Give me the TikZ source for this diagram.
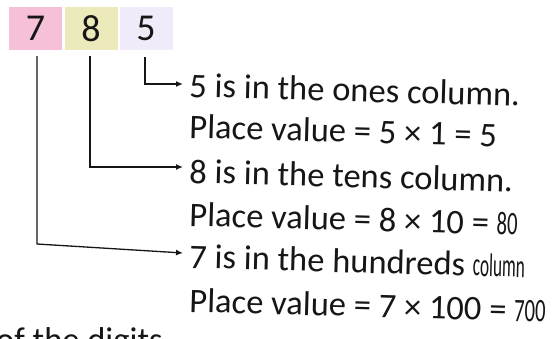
\documentclass[tikz,border=0pt]{standalone}
\usepackage{fontspec}
\setmainfont{Carlito}
\usetikzlibrary{arrows.meta}
\definecolor{pinkc}{RGB}{246,192,216}
\definecolor{yelc}{RGB}{236,233,186}
\definecolor{lavc}{RGB}{241,234,248}
\definecolor{inkc}{RGB}{22,22,22}
\tikzset{
  digitbox/.style={inner sep=0pt, minimum width=53pt, minimum height=43pt, text=inkc, font=\fontsize{38}{40}\selectfont},
  conn/.style={draw=inkc, line width=1.3pt, -{Latex[length=7pt,width=6pt]}},
  txt/.style={anchor=base west, inner sep=0pt, text=inkc, font=\fontsize{34.5}{40}\selectfont, rotate=-1.6},
  pagetxt/.style={anchor=base west, inner sep=0pt, text=inkc, font=\fontsize{34.5}{40}\selectfont}
}
\begin{document}
\begin{tikzpicture}[x=1pt,y=-1pt]
\useasboundingbox (0,0) rectangle (555,338);
\clip (0,0) rectangle (555,338);
\fill[white] (0,0) rectangle (555,338);
% digits
\node[digitbox, fill=pinkc] (d7) at (35.5,28.5) {7};
\node[digitbox, fill=yelc] (d8) at (91,28.5) {8};
\node[digitbox, fill=lavc] (d5) at (146,28.5) {5};
% texts
\node[txt] (t1) at (189,97) {5 is in the ones column.};
\node[txt] (t2) at (189,138) {Place value = 5 × 1 = 5};
\node[txt] (t3) at (189,183) {8 is in the tens column.};
\node[txt] (t4) at (189,226) {Place value = 8 × 10 = \scalebox{0.6}[0.95]{80}};
\node[txt] (t5) at (189,268) {7 is in the hundreds \scalebox{0.5}[0.95]{column}};
\node[txt] (t6) at (189,312) {Place value = 7 × 100 = \scalebox{0.6}[0.95]{700}};
\node[pagetxt] (pg) at (-4,351) {of the digits};
% connector points
\coordinate (a1) at (183,84);
\coordinate (a2) at (183,167);
\coordinate (k7) at (37,244);
\coordinate (a3) at (183,253);
\draw[conn] ([xshift=-1pt,yshift=-7pt]d5.south) |- (a1);
\draw[conn] ([xshift=-1pt,yshift=-6pt]d8.south) |- (a2);
\draw[conn] ([xshift=1.5pt,yshift=-6pt]d7.south) -- (k7) -- (a3);
\end{tikzpicture}
\end{document}
